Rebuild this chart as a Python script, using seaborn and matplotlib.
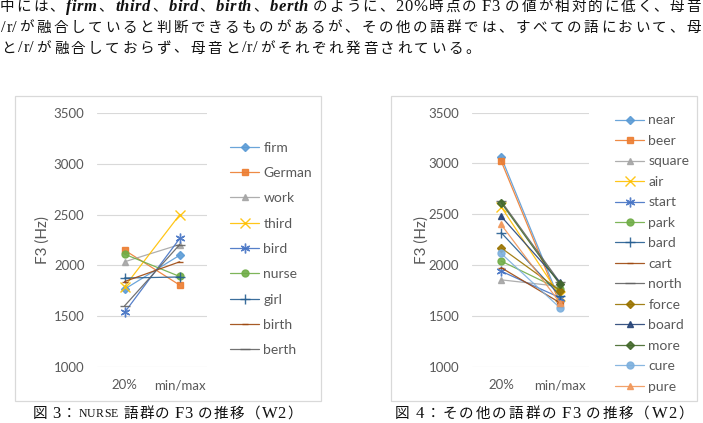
import matplotlib
matplotlib.use("Agg")
import matplotlib.pyplot as plt
from matplotlib.patches import Rectangle
import seaborn as sns
import pandas as pd

W, H = 703, 423

# --- data ---
stages = ["20%", "min/max"]

nurse_words = ["firm", "German", "work", "third", "bird", "nurse", "girl", "birth", "berth"]
nurse_20 = [1765, 2150, 2035, 1790, 1535, 2110, 1875, 1840, 1600]
nurse_mm = [2100, 1805, 2205, 2500, 2265, 1890, 1885, 2035, 2205]

other_words = ["near", "beer", "square", "air", "start", "park", "bard", "cart",
               "north", "force", "board", "more", "cure", "pure"]
other_20 = [3065, 3025, 1855, 2575, 1940, 2040, 2320, 1975, 2630, 2170, 2480, 2615, 2115, 2400]
other_mm = [1650, 1620, 1790, 1700, 1680, 1760, 1700, 1630, 1830, 1750, 1830, 1810, 1580, 1630]

# excel 2013 series colours / markers
colors = ["#5B9BD5", "#ED7D31", "#A5A5A5", "#FFC000", "#4472C4", "#70AD47", "#255E91",
          "#9E480E", "#636363", "#997300", "#264478", "#43682B", "#7CAFDD", "#F1975A"]
markers = ["D", "s", "^", "x", (6, 2, 0), "o", "+", "_", "_", "D", "^", "D", "o", "^"]
msizes = [4, 5, 5, 7, 7, 5, 7, 5, 7, 4, 5, 4, 5, 5]

sns.set_style("white")
plt.rcParams["font.family"] = ["Lato", "DejaVu Sans"]
GRAY = "#595959"
JP = ["Noto Sans CJK JP", "DejaVu Sans"]
SERIF = ["Liberation Serif", "DejaVu Serif"]

fig = plt.figure(figsize=(W / 100, H / 100), dpi=100)


def make_long(words, v20, vmm):
    rows = []
    for w, a, b in zip(words, v20, vmm):
        rows.append({"word": w, "stage": stages[0], "F3": a})
        rows.append({"word": w, "stage": stages[1], "F3": b})
    return pd.DataFrame(rows)


def draw_chart(rect, words, v20, vmm, leg_anchor, leg_spacing):
    ax = fig.add_axes(rect)
    df = make_long(words, v20, vmm)
    for i, w in enumerate(words):
        sns.lineplot(data=df[df["word"] == w], x="stage", y="F3", sort=False,
                     color=colors[i], marker=markers[i], markersize=msizes[i],
                     markeredgecolor=colors[i], markeredgewidth=1.0,
                     linewidth=0.9, alpha=0.9, label=w, ax=ax, legend=False)
    ax.set_xlim(-0.5, 1.5)
    ax.set_ylim(1000, 3500)
    ax.set_yticks(range(1000, 3501, 500))
    ax.yaxis.grid(True, color="#D9D9D9", linewidth=0.8)
    ax.set_axisbelow(True)
    for s in ax.spines.values():
        s.set_visible(False)
    ax.tick_params(axis="y", length=0, pad=9, labelsize=9.5, labelcolor=GRAY)
    ax.tick_params(axis="x", length=0, pad=9, labelsize=9.5, labelcolor=GRAY)
    ax.set_xlabel("")
    ax.set_ylabel("")
    h, l = ax.get_legend_handles_labels()
    ax.legend(h, l, loc="upper left", bbox_to_anchor=leg_anchor,
              bbox_transform=fig.transFigure, frameon=False, fontsize=10,
              handlelength=2.1, handletextpad=0.3, borderpad=0, borderaxespad=0,
              labelspacing=leg_spacing, labelcolor=GRAY)
    return ax


draw_chart([97 / W, 1 - 366.7 / H, 110.3 / W, 253.4 / H],
           nurse_words, nurse_20, nurse_mm, (230 / W, 1 - 141.5 / H), 0.96)
draw_chart([471.7 / W, 1 - 366.7 / H, 117.6 / W, 254 / H],
           other_words, other_20, other_mm, (615 / W, 1 - 114.5 / H), 0.61)

fig.text(43 / W, 1 - 240 / H, "F3 (Hz)", rotation=90, ha="center", va="center",
         fontsize=11, color=GRAY)
fig.text(421.7 / W, 1 - 240 / H, "F3 (Hz)", rotation=90, ha="center", va="center",
         fontsize=11, color=GRAY)

# chart area borders
for x0, x1 in [(15, 320.7), (390.7, 696.7)]:
    fig.add_artist(Rectangle((x0 / W, 1 - 400.7 / H), (x1 - x0) / W, (400.7 - 96) / H,
                             transform=fig.transFigure, fill=False,
                             edgecolor="#D9D9D9", linewidth=0.9))


# --- surrounding document text, spaced char by char ---
def place_line(y_px, segments, x0, x1=None, gap=None, size=10.5):
    r = fig.canvas.get_renderer()
    items = []
    for text, kw in segments:
        kw = dict(kw)
        fs = kw.pop("fontsize", size)
        for ch in text:
            t = fig.text(0, 0, ch, fontsize=fs, va="center", ha="left", color="#111111", **kw)
            w = t.get_window_extent(r).width if ch != " " else fs * 0.3
            items.append((t, w, ch.isascii()))
    # latin letters keep nearly natural spacing, kana/kanji take the slack
    weights = []
    for a, b in zip(items[:-1], items[1:]):
        weights.append(0.25 if (a[2] and b[2]) else 1.0)
    total = sum(w for _, w, _ in items)
    if x1 is not None:
        gap = (x1 - x0 - total) / sum(weights)
    x = x0
    for k, (t, w, _) in enumerate(items):
        t.set_position((x / W, 1 - y_px / H))
        if k < len(weights):
            x += w + gap * weights[k]
    return gap


jp = {"family": JP}
it = {"family": SERIF, "style": "italic", "weight": "bold", "fontsize": 12}
rm = {"family": SERIF, "fontsize": 12}

place_line(7, [("中には、", jp), ("firm", it), ("、", jp), ("third", it), ("、", jp),
               ("bird", it), ("、", jp), ("birth", it), ("、", jp), ("berth", it),
               (" のように、", jp), ("20%", rm), ("時点の ", jp), ("F3", rm),
               (" の値が相対的に低く、母音", jp)], 0, 701)
g = place_line(28, [("/r/", rm), ("が融合していると判断できるものがあるが、その他の語群では、すべての語において、母", jp)],
               1, 701)
place_line(48.5, [("と", jp), ("/r/", rm), ("が融合しておらず、母音と", jp), ("/r/", rm),
                  ("がそれぞれ発音されている。", jp)], 1, gap=g)

place_line(414, [("図 ", jp), ("3", rm), ("：", jp), ("NURSE", dict(rm, fontsize=8.5)),
                 (" 語群の ", jp), ("F3", rm), (" の推移（", jp), ("W2", rm), ("）", jp)],
           33, 302, size=10.5)
place_line(414, [("図 ", jp), ("4", rm), ("：その他の語群の ", jp), ("F3", rm),
                 (" の推移（", jp), ("W2", rm), ("）", jp)],
           395, 693, size=10.5)

fig.savefig("out.png", dpi=100)
